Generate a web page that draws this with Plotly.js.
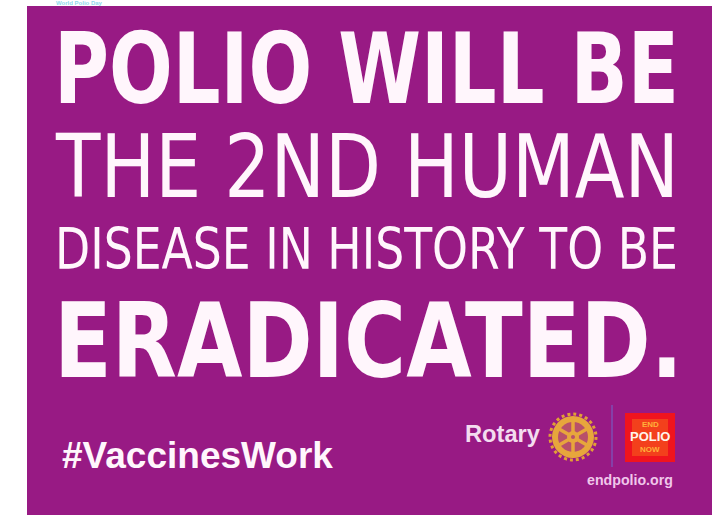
<!DOCTYPE html>
<html>
<head>
<meta charset="utf-8">
<script src="https://cdn.plot.ly/plotly-3.0.1.min.js"></script>
<style>
html,body{margin:0;padding:0;background:#fff;}
#chart{width:725px;height:517px;}
</style>
</head>
<body>
<div id="chart"></div>
<script>
// ---- content ----
var headlineLines = ["POLIO WILL BE", "THE 2ND HUMAN", "DISEASE IN HISTORY TO BE", "ERADICATED."];
var headlineWeights = ["bold", "normal", "normal", "bold"];
var hashtag = "#VaccinesWork";
var brandName = "Rotary";
var logoWords = ["END", "POLIO", "NOW"];
var siteUrl = "endpolio.org";
var topFragment = "World Polio Day";

// ---- layout helpers ----
var FAMILY = "'DejaVu Sans', 'Liberation Sans', sans-serif";
var HFAM = "'Liberation Sans', 'DejaVu Sans', sans-serif";
var ctx = document.createElement('canvas').getContext('2d');
function fit(text, weight, family, w) {
  ctx.font = weight + " 100px " + family;
  return 100 * w / ctx.measureText(text).width;
}

var PURPLE = "#981a84";
var WHITE = "#fff6fc";
var CAP = 0.729; // DejaVu Sans cap height / em

// line geometry [left, right, capTop, capBottom]
var lineBoxes = [[54, 679, 32, 103], [55, 678, 133, 197], [55, 678, 228, 270], [54, 683, 302, 377]];
var headSizes = [];

var annotations = [];
headlineLines.forEach(function (t, i) {
  var b = lineBoxes[i];
  var w = headlineWeights[i] === 'bold' ? 'bold' : 'normal';
  var s = fit(t, w, FAMILY, b[1] - b[0]);
  headSizes.push(s);
  annotations.push({
    x: (b[0] + b[1]) / 2, y: (b[2] + b[3]) / 2 + 0.02 * s, xref: 'x', yref: 'y', xanchor: 'center', yanchor: 'middle',
    text: t, showarrow: false, align: 'center', borderpad: 0, borderwidth: 0,
    font: {family: FAMILY, size: s, color: WHITE, weight: w === 'bold' ? 700 : 400}
  });
});

var hs = fit(hashtag, 'bold', HFAM, 333 - 62);
annotations.push({x: 60, y: 455, xref: 'x', yref: 'y', xanchor: 'left', yanchor: 'middle',
  text: '<b>' + hashtag + '</b>', showarrow: false, font: {family: HFAM, size: hs, color: WHITE}});

var rs = fit(brandName, 'bold', HFAM, 540 - 465);
annotations.push({x: 463, y: 434, xref: 'x', yref: 'y', xanchor: 'left', yanchor: 'middle',
  text: '<b>' + brandName + '</b>', showarrow: false, font: {family: HFAM, size: rs, color: '#f3dcef'}});

var us = fit(siteUrl, 'bold', HFAM, 673 - 587);
annotations.push({x: 630, y: 480, xref: 'x', yref: 'y', xanchor: 'center', yanchor: 'middle',
  text: '<b>' + siteUrl + '</b>', showarrow: false, font: {family: HFAM, size: us, color: '#f0c6ea'}});

// END POLIO NOW logo words
annotations.push({x: 650, y: 424, xref: 'x', yref: 'y', xanchor: 'center', yanchor: 'middle',
  text: '<b>' + logoWords[0] + '</b>', showarrow: false, font: {family: HFAM, size: 8, color: '#ffb03a'}});
annotations.push({x: 650, y: 436, xref: 'x', yref: 'y', xanchor: 'center', yanchor: 'middle',
  text: '<b>' + logoWords[1] + '</b>', showarrow: false, font: {family: HFAM, size: 13, color: '#fff4ea'}});
annotations.push({x: 650, y: 449, xref: 'x', yref: 'y', xanchor: 'center', yanchor: 'middle',
  text: '<b>' + logoWords[2] + '</b>', showarrow: false, font: {family: HFAM, size: 8, color: '#ffb03a'}});

// small cyan text in the top strip
annotations.push({x: 56, y: 3, xref: 'x', yref: 'y', xanchor: 'left', yanchor: 'middle',
  text: '<b>' + topFragment + '</b>', showarrow: false, borderpad: 0, borderwidth: 0,
  font: {family: HFAM, size: 6, color: '#8fd9ec'}});

// ---- shapes ----
var shapes = [
  {type: 'rect', xref: 'x', yref: 'y', x0: 27, x1: 712, y0: 6, y1: 515, fillcolor: PURPLE, line: {width: 0}, layer: 'below'},
  // divider
  {type: 'line', xref: 'x', yref: 'y', x0: 612, x1: 612, y0: 405, y1: 467, line: {color: 'rgba(120,90,190,0.8)', width: 1.5}},
  // end polio now square
  {type: 'rect', xref: 'x', yref: 'y', x0: 625, x1: 675, y0: 413, y1: 462, fillcolor: '#f0141e', line: {width: 0}},
  {type: 'rect', xref: 'x', yref: 'y', x0: 632, x1: 668, y0: 419, y1: 456, fillcolor: '#f3401c', line: {width: 0}}
];

// rotary wheel
var cx = 573, cy = 437;
shapes.push({type: 'circle', xref: 'x', yref: 'y', x0: cx - 23, x1: cx + 23, y0: cy - 23, y1: cy + 23,
  fillcolor: 'rgba(0,0,0,0)', line: {color: '#e2a035', width: 3, dash: 'dot'}});
shapes.push({type: 'circle', xref: 'x', yref: 'y', x0: cx - 21, x1: cx + 21, y0: cy - 21, y1: cy + 21,
  fillcolor: '#e7a63c', line: {width: 0}});
shapes.push({type: 'circle', xref: 'x', yref: 'y', x0: cx - 15, x1: cx + 15, y0: cy - 15, y1: cy + 15,
  fillcolor: '#b8506a', line: {width: 0}});
for (var k = 0; k < 6; k++) {
  var a = Math.PI / 6 + k * Math.PI / 3;
  shapes.push({type: 'line', xref: 'x', yref: 'y', x0: cx, y0: cy, x1: cx + 16 * Math.cos(a), y1: cy + 16 * Math.sin(a),
    line: {color: '#e7a63c', width: 3.5}});
}
shapes.push({type: 'circle', xref: 'x', yref: 'y', x0: cx - 6, x1: cx + 6, y0: cy - 6, y1: cy + 6,
  fillcolor: '#e7a63c', line: {width: 0}});
shapes.push({type: 'circle', xref: 'x', yref: 'y', x0: cx - 2, x1: cx + 2, y0: cy - 2, y1: cy + 2,
  fillcolor: '#b8506a', line: {width: 0}});

var layout = {
  width: 725, height: 517,
  margin: {l: 0, r: 0, t: 0, b: 0, pad: 0},
  paper_bgcolor: '#ffffff', plot_bgcolor: 'rgba(0,0,0,0)',
  xaxis: {range: [0, 725], visible: false, fixedrange: true},
  yaxis: {range: [517, 0], visible: false, fixedrange: true},
  showlegend: false,
  shapes: shapes,
  annotations: annotations
};

Plotly.newPlot('chart', [{x: [], y: [], type: 'scatter', mode: 'markers', hoverinfo: 'skip'}], layout,
  {staticPlot: true, displayModeBar: false}).then(function (gd) {
  // stretch the headline lines vertically to the poster's tall, narrow letterforms
  var groups = gd.querySelectorAll('g.annotation');
  headlineLines.forEach(function (t, i) {
    var b = lineBoxes[i];
    var g = groups[i];
    if (!g) return;
    var txt = g.querySelector('text.annotation-text');
    if (!txt) return;
    var bb = txt.getBBox();
    var c = bb.y + bb.height / 2;
    var sy = (b[3] - b[2]) / (headSizes[i] * CAP);
    var prev = txt.getAttribute('transform') || '';
    txt.setAttribute('transform', prev + ' translate(0,' + c + ') scale(1,' + sy + ') translate(0,' + (-c) + ')');
  });
});
</script>
</body>
</html>
